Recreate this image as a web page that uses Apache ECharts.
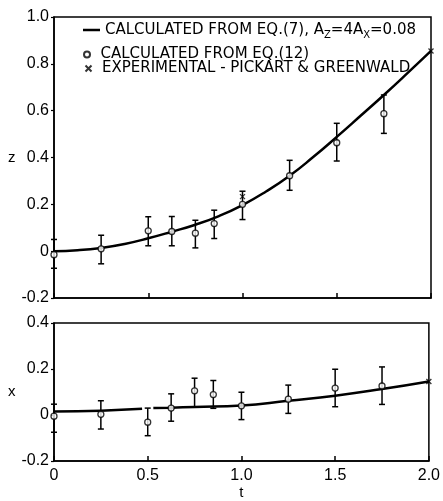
<!DOCTYPE html>
<html lang="en">
<head>
    <meta charset="UTF-8">
    <title>z, x vs t</title>
    <script type="text/javascript" src="https://cdn.jsdelivr.net/npm/echarts@6/dist/echarts.min.js"></script>
    <style>
        html, body { margin: 0; padding: 0; background: #fff; }
        #main { width: 443px; height: 501px; }
    </style>
</head>
<body>
<div id="main"></div>
<script type="text/javascript">
    // 数据：圆点 + 误差棒（t 相同）
    var tPts = [0, 0.25, 0.5, 0.625, 0.75, 0.85, 1.0, 1.25, 1.5, 1.75];
    var zMid = [-0.015, 0.01, 0.087, 0.084, 0.077, 0.118, 0.2, 0.322, 0.463, 0.587];
    var zLo = [-0.073, -0.054, 0.023, 0.023, 0.014, 0.054, 0.135, 0.26, 0.385, 0.503];
    var zHi = [0.05, 0.068, 0.147, 0.148, 0.132, 0.175, 0.256, 0.388, 0.546, 0.667];
    var xMid = [-0.005, 0.003, -0.031, 0.03, 0.105, 0.089, 0.04, 0.069, 0.117, 0.126];
    var xLo = [-0.075, -0.061, -0.09, -0.027, 0.036, 0.029, -0.02, 0.007, 0.036, 0.046];
    var xHi = [0.047, 0.062, 0.03, 0.092, 0.16, 0.15, 0.099, 0.13, 0.199, 0.209];

    // 实验点 (x 号)
    var tExpZ = [1.0, 2.0];
    var zExp = [0.233, 0.855];
    var tExpX = [2.0];
    var xExp = [0.146];

    // 计算曲线
    var tCurveZ = [0, 0.125, 0.25, 0.375, 0.5, 0.625, 0.75, 0.875, 1.0, 1.125, 1.25, 1.375, 1.5, 1.625, 1.75, 1.875, 2.0];
    var zCurve = [0.0, 0.004, 0.014, 0.031, 0.055, 0.083, 0.113, 0.15, 0.197, 0.255, 0.322, 0.402, 0.488, 0.577, 0.667, 0.76, 0.855];
    // 下图曲线在 t=0.5 附近断开
    var tCurveX = [0, 0.25, 0.47, 0.5, 0.53, 0.625, 0.75, 1.0, 1.25, 1.5, 1.75, 2.0];
    var xCurve = [0.015, 0.019, 0.027, '-', 0.03, 0.032, 0.035, 0.041, 0.062, 0.084, 0.113, 0.146];

    function zip(a, b) {
        var r = [];
        for (var i = 0; i < a.length; i++) r.push([a[i], b[i]]);
        return r;
    }
    function zip3(a, b, c) {
        var r = [];
        for (var i = 0; i < a.length; i++) r.push([a[i], b[i], c[i]]);
        return r;
    }
    function fmt(v) {
        return Math.abs(v) < 1e-9 ? '0' : v.toFixed(1);
    }

    var FONT = 'Liberation Sans';
    var LFONT = 'DejaVu Sans';
    var crossPath = 'path://M0,0L10,10M10,0L0,10';

    function errorBars(params, api) {
        var t = api.value(0);
        var p1 = api.coord([t, api.value(1)]);
        var p2 = api.coord([t, api.value(2)]);
        var w = 3;
        var st = {stroke: '#000', lineWidth: 1.5};
        return {
            type: 'group',
            children: [
                {type: 'line', shape: {x1: p1[0], y1: p1[1], x2: p2[0], y2: p2[1]}, style: st},
                {type: 'line', shape: {x1: p1[0] - w, y1: p1[1], x2: p1[0] + w, y2: p1[1]}, style: st},
                {type: 'line', shape: {x1: p2[0] - w, y1: p2[1], x2: p2[0] + w, y2: p2[1]}, style: st}
            ]
        };
    }

    var xAxisBase = {
        type: 'value', min: 0, max: 2, interval: 0.5,
        axisLine: {onZero: false, lineStyle: {color: '#000', width: 1.5}},
        axisTick: {inside: true, length: 5, lineStyle: {color: '#000', width: 1.5}},
        splitLine: {show: false}
    };
    var yAxisBase = {
        type: 'value', interval: 0.2,
        axisLine: {show: true, onZero: false, lineStyle: {color: '#000', width: 1.5}},
        axisTick: {show: true, length: 3, lineStyle: {color: '#000', width: 1.2}},
        splitLine: {show: false},
        axisLabel: {color: '#000', fontFamily: FONT, fontSize: 16, margin: 5, formatter: fmt},
        nameLocation: 'middle', nameRotate: 0, nameGap: 32,
        nameTextStyle: {color: '#000', fontFamily: FONT, fontSize: 15}
    };

    var myChart = echarts.init(document.getElementById('main'));
    var option = {
        backgroundColor: '#fff',
        animation: false,
        grid: [
            {left: 54, top: 17, width: 377, height: 281, show: true, borderColor: '#000', borderWidth: 1.5},
            {left: 54, top: 323, width: 377, height: 140, show: true, borderColor: '#000', borderWidth: 1.5}
        ],
        legend: [
            {
                left: 78, top: 15, itemWidth: 17, itemHeight: 2.5, orient: 'vertical',
                data: [{name: 'curve', icon: 'rect'}],
                formatter: function () {
                    return 'CALCULATED FROM EQ.(7), A{s|Z}=4A{s|X}=0.08';
                },
                textStyle: {
                    color: '#000', fontFamily: LFONT, fontSize: 15, lineHeight: 20,
                    rich: {s: {fontSize: 10, fontFamily: LFONT, color: '#000', lineHeight: 10, verticalAlign: 'bottom'}}
                }
            },
            {
                left: 78, top: 42, itemWidth: 17, itemHeight: 6, orient: 'vertical',
                data: ['circ'],
                formatter: function () { return 'CALCULATED FROM EQ.(12)'; },
                textStyle: {color: '#000', fontFamily: LFONT, fontSize: 15}
            },
            {
                left: 78, top: 56, itemWidth: 17, itemHeight: 6, orient: 'vertical',
                data: ['exp'],
                formatter: function () { return 'EXPERIMENTAL - PICKART & GREENWALD'; },
                textStyle: {color: '#000', fontFamily: LFONT, fontSize: 15}
            }
        ],
        xAxis: [
            Object.assign({}, xAxisBase, {gridIndex: 0, axisLabel: {show: false}}),
            Object.assign({}, xAxisBase, {
                gridIndex: 1,
                name: 't', nameLocation: 'middle', nameGap: 24,
                nameTextStyle: {color: '#000', fontFamily: FONT, fontSize: 15},
                axisLabel: {color: '#000', fontFamily: FONT, fontSize: 16, margin: 7, formatter: fmt}
            })
        ],
        yAxis: [
            Object.assign({}, yAxisBase, {gridIndex: 0, min: -0.2, max: 1.0, name: 'z'}),
            Object.assign({}, yAxisBase, {gridIndex: 1, min: -0.2, max: 0.4, name: 'x'})
        ],
        series: [
            {
                name: 'curve', type: 'line', xAxisIndex: 0, yAxisIndex: 0,
                data: zip(tCurveZ, zCurve), smooth: true, symbol: 'none',
                lineStyle: {color: '#000', width: 2.5}, itemStyle: {color: '#000'}, z: 3
            },
            {
                name: 'curve', type: 'line', xAxisIndex: 1, yAxisIndex: 1,
                data: zip(tCurveX, xCurve), smooth: true, symbol: 'none', connectNulls: false,
                lineStyle: {color: '#000', width: 2.5}, itemStyle: {color: '#000'}, z: 3
            },
            {
                type: 'custom', xAxisIndex: 0, yAxisIndex: 0,
                data: zip3(tPts, zLo, zHi), encode: {x: 0, y: [1, 2]},
                renderItem: errorBars, clip: false, z: 2
            },
            {
                type: 'custom', xAxisIndex: 1, yAxisIndex: 1,
                data: zip3(tPts, xLo, xHi), encode: {x: 0, y: [1, 2]},
                renderItem: errorBars, clip: false, z: 2
            },
            {
                name: 'circ', type: 'scatter', xAxisIndex: 0, yAxisIndex: 0,
                data: zip(tPts, zMid), symbol: 'circle', symbolSize: 6,
                itemStyle: {color: '#fff', borderColor: '#000', borderWidth: 1.3}, z: 4
            },
            {
                name: 'circ', type: 'scatter', xAxisIndex: 1, yAxisIndex: 1,
                data: zip(tPts, xMid), symbol: 'circle', symbolSize: 6,
                itemStyle: {color: '#fff', borderColor: '#000', borderWidth: 1.3}, z: 4
            },
            {
                name: 'exp', type: 'scatter', xAxisIndex: 0, yAxisIndex: 0,
                data: zip(tExpZ, zExp), symbol: crossPath, symbolSize: 5, clip: false,
                itemStyle: {color: 'none', borderColor: '#000', borderWidth: 1.3}, z: 5
            },
            {
                name: 'exp', type: 'scatter', xAxisIndex: 1, yAxisIndex: 1,
                data: zip(tExpX, xExp), symbol: crossPath, symbolSize: 5, clip: false,
                itemStyle: {color: 'none', borderColor: '#000', borderWidth: 1.3}, z: 5
            }
        ]
    };
    myChart.setOption(option);
</script>
</body>
</html>
